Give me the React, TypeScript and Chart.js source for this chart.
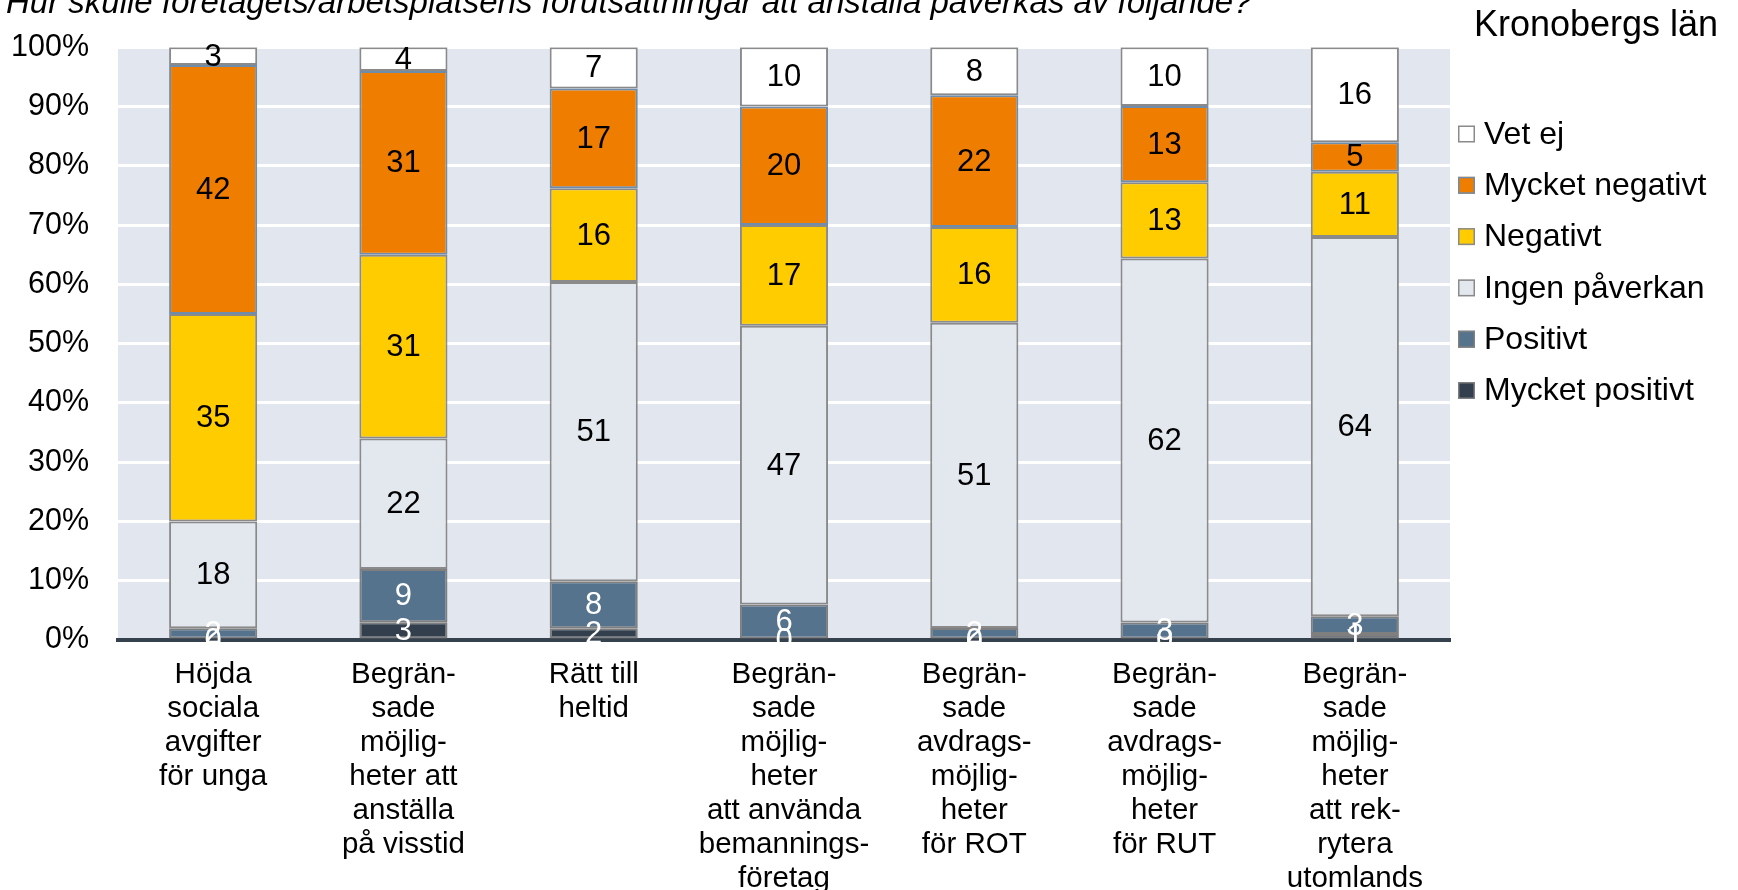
import React, { useEffect, useRef } from "react";
import { Chart, registerables } from "chart.js";

Chart.register(...registerables);

const questionText =
  "Hur skulle företagets/arbetsplatsens förutsättningar att anställa påverkas av följande?";
const chartTitle = "Kronobergs län";

const categories: string[][] = [
  ["Höjda", "sociala", "avgifter", "för unga"],
  ["Begrän-", "sade", "möjlig-", "heter att", "anställa", "på visstid"],
  ["Rätt till", "heltid"],
  ["Begrän-", "sade", "möjlig-", "heter", "att använda", "bemannings-", "företag"],
  ["Begrän-", "sade", "avdrags-", "möjlig-", "heter", "för ROT"],
  ["Begrän-", "sade", "avdrags-", "möjlig-", "heter", "för RUT"],
  ["Begrän-", "sade", "möjlig-", "heter", "att rek-", "rytera", "utomlands"],
];

const seriesNames = [
  "Mycket positivt",
  "Positivt",
  "Ingen påverkan",
  "Negativt",
  "Mycket negativt",
  "Vet ej",
];

const mycketPositivt = [0, 3, 2, 0, 0, 0, 1];
const positivt = [2, 9, 8, 6, 2, 3, 3];
const ingenPaverkan = [18, 22, 51, 47, 51, 62, 64];
const negativt = [35, 31, 16, 17, 16, 13, 11];
const mycketNegativt = [42, 31, 17, 20, 22, 13, 5];
const vetEj = [3, 4, 7, 10, 8, 10, 16];

const yTicks = [0, 10, 20, 30, 40, 50, 60, 70, 80, 90, 100];

const seriesValues = [mycketPositivt, positivt, ingenPaverkan, negativt, mycketNegativt, vetEj];
const seriesFill = ["#333F4C", "#56738E", "#E3E8EF", "#FFCC00", "#EE7D00", "#FFFFFF"];
const seriesBorder = ["#7F7F7F", "#7F7F7F", "#8A8A8A", "#8A8A8A", "#6F8DAA", "#8A8A8A"];
const labelColors = ["#FFFFFF", "#FFFFFF", "#000000", "#000000", "#000000", "#000000"];

const FONT = "Liberation Sans, Arial, sans-serif";

const totals = categories.map((_, i) =>
  seriesValues.reduce((s, arr) => s + arr[i], 0)
);

const bgPlugin = {
  id: "plotBg",
  beforeDraw(chart: any) {
    const { ctx, chartArea } = chart;
    ctx.save();
    ctx.fillStyle = "#E2E7EF";
    ctx.fillRect(chartArea.left, chartArea.top, chartArea.right - chartArea.left, chartArea.bottom - chartArea.top);
    ctx.restore();
  },
};

const labelPlugin = {
  id: "segLabels",
  afterDatasetsDraw(chart: any) {
    const { ctx } = chart;
    ctx.save();
    ctx.font = `31px ${FONT}`;
    ctx.textAlign = "center";
    ctx.textBaseline = "middle";
    chart.data.datasets.forEach((ds: any, di: number) => {
      const meta = chart.getDatasetMeta(di);
      meta.data.forEach((el: any, i: number) => {
        const raw = ds.rawValues[i];
        ctx.fillStyle = ds.labelColor;
        ctx.fillText(String(raw), el.x, (el.y + el.base) / 2 + 1);
      });
    });
    ctx.restore();
  },
};

const textPlugin = {
  id: "texts",
  afterDraw(chart: any) {
    const { ctx } = chart;
    ctx.save();
    // top question (partly cut)
    ctx.font = `italic 33px ${FONT}`;
    ctx.fillStyle = "#000";
    ctx.textAlign = "left";
    ctx.textBaseline = "alphabetic";
    ctx.fillText(questionText, 6, 13);
    // title
    ctx.font = `36px ${FONT}`;
    ctx.textAlign = "center";
    ctx.fillText(chartTitle, 1596, 36);
    // legend
    const items = chart.data.datasets.map((d: any) => d).reverse();
    ctx.font = `32px ${FONT}`;
    ctx.textAlign = "left";
    ctx.textBaseline = "middle";
    items.forEach((d: any, k: number) => {
      const cy = 134 + k * 51.3;
      ctx.fillStyle = d.backgroundColor;
      ctx.fillRect(1458, cy - 8.5, 17, 17);
      ctx.strokeStyle = d.borderColor;
      ctx.lineWidth = 1.5;
      ctx.strokeRect(1458.75, cy - 7.75, 15.5, 15.5);
      ctx.fillStyle = "#000";
      ctx.fillText(d.label, 1484, cy + 1);
    });
    ctx.restore();
  },
};

export default function App() {
  const ref = useRef<HTMLCanvasElement | null>(null);

  useEffect(() => {
    if (!ref.current) return;
    const datasets = seriesNames.map((name, si) => ({
      label: name,
      data: seriesValues[si].map((v, i) => (v / totals[i]) * 100),
      rawValues: seriesValues[si],
      backgroundColor: seriesFill[si],
      borderColor: seriesBorder[si],
      borderWidth: 2,
      borderSkipped: false,
      labelColor: labelColors[si],
      categoryPercentage: 1,
      barPercentage: 0.463,
    }));

    const chart = new Chart(ref.current, {
      type: "bar",
      data: { labels: categories as any, datasets: datasets as any },
      options: {
        animation: false,
        responsive: false,
        layout: { padding: { top: 43, right: 288, left: 0, bottom: 0 } },
        plugins: {
          legend: { display: false },
          tooltip: { enabled: false },
          title: { display: false },
        },
        scales: {
          x: {
            stacked: true,
            grid: { display: false, drawTicks: false },
            border: { display: true, color: "#36414E", width: 4 },
            ticks: {
              color: "#000",
              font: { family: FONT, size: 29.5, lineHeight: 1.15 },
              padding: 18,
              autoSkip: false,
              maxRotation: 0,
              minRotation: 0,
            },
            afterFit(scale: any) {
              scale.height = 250;
            },
          },
          y: {
            stacked: true,
            min: 0,
            max: 100,
            grid: { color: "#FFFFFF", lineWidth: 3, drawTicks: false },
            border: { display: false },
            ticks: {
              color: "#000",
              font: { family: FONT, size: 30.5 },
              padding: 29,
              callback: (v: any) => `${v}%`,
            },
            afterBuildTicks(scale: any) {
              scale.ticks = yTicks.map((v) => ({ value: v }));
            },
            afterFit(scale: any) {
              scale.width = 118;
            },
          },
        },
      },
      plugins: [bgPlugin, labelPlugin, textPlugin],
    });
    return () => chart.destroy();
  }, []);

  return (
    <div style={{ position: "fixed", left: 0, top: 0, width: 1738, height: 890, background: "#fff" }}>
      <canvas ref={ref} width={1738} height={890} style={{ display: "block", width: 1738, height: 890 }} />
    </div>
  );
}
